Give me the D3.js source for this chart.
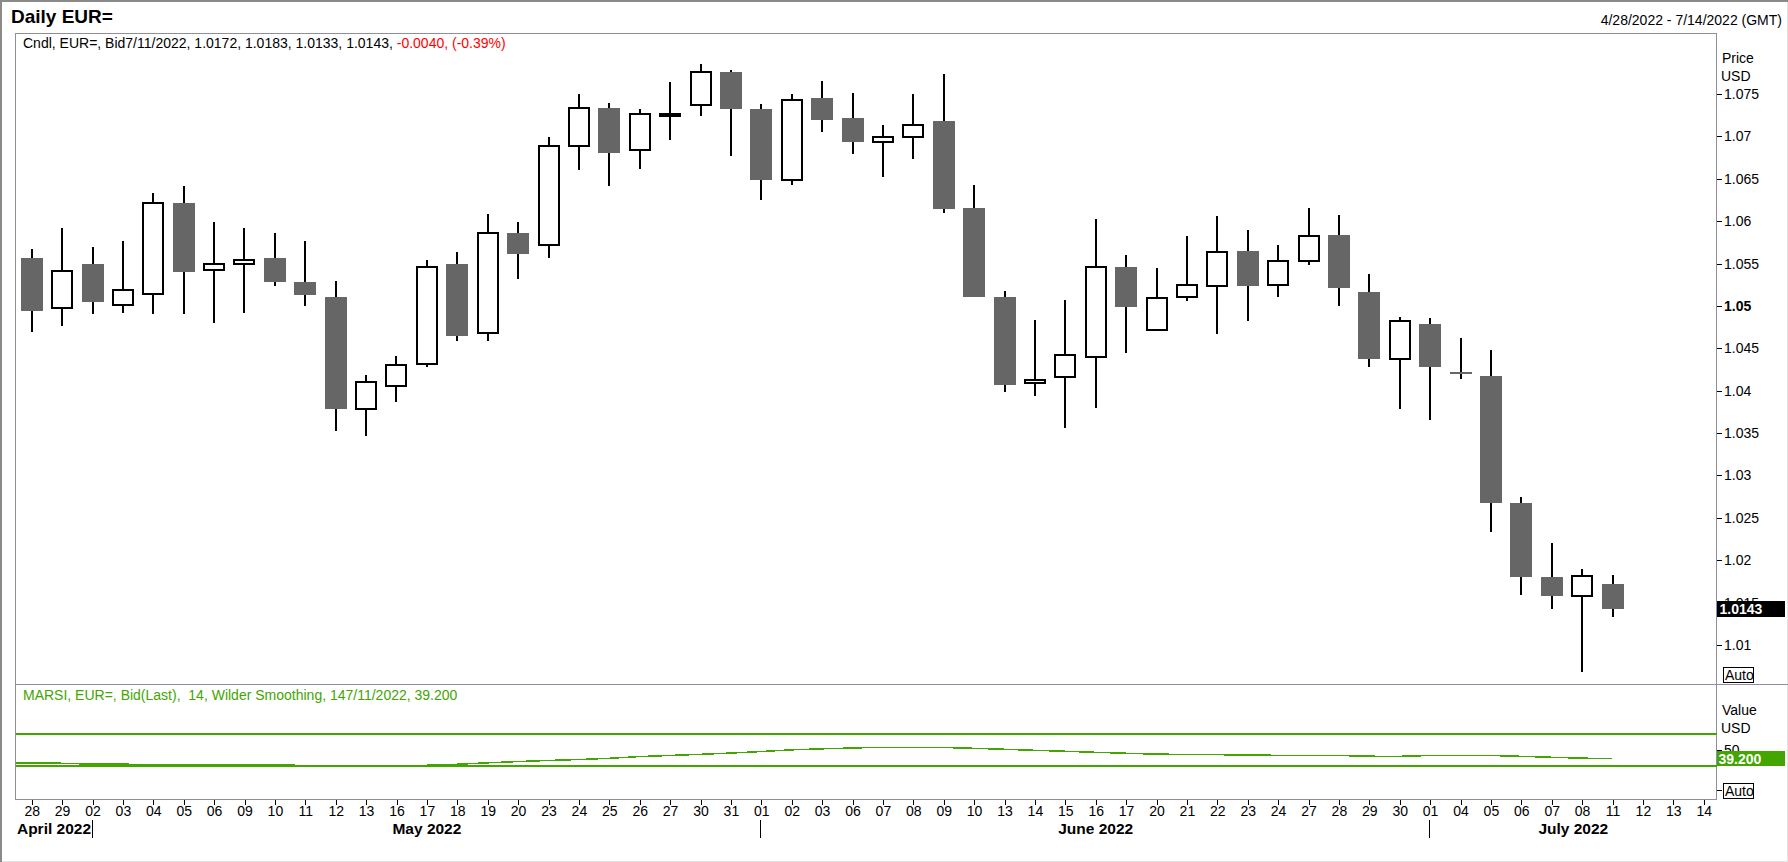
<!DOCTYPE html>
<html>
<head>
<meta charset="utf-8">
<script src="https://cdn.jsdelivr.net/npm/d3@7"></script>
<style>
  html, body { margin: 0; padding: 0; background: #fff; }
  svg { display: block; font-family: Arial, "Liberation Sans", sans-serif; }
</style>
</head>
<body>
<div id="chart"></div>
<script>
// trading days on the x axis (last three are empty slots)
let dates = [
    "2022-04-28", "2022-04-29",
    "2022-05-02", "2022-05-03", "2022-05-04", "2022-05-05", "2022-05-06",
    "2022-05-09", "2022-05-10", "2022-05-11", "2022-05-12", "2022-05-13",
    "2022-05-16", "2022-05-17", "2022-05-18", "2022-05-19", "2022-05-20",
    "2022-05-23", "2022-05-24", "2022-05-25", "2022-05-26", "2022-05-27",
    "2022-05-30", "2022-05-31",
    "2022-06-01", "2022-06-02", "2022-06-03",
    "2022-06-06", "2022-06-07", "2022-06-08", "2022-06-09", "2022-06-10",
    "2022-06-13", "2022-06-14", "2022-06-15", "2022-06-16", "2022-06-17",
    "2022-06-20", "2022-06-21", "2022-06-22", "2022-06-23", "2022-06-24",
    "2022-06-27", "2022-06-28", "2022-06-29", "2022-06-30",
    "2022-07-01", "2022-07-04", "2022-07-05", "2022-07-06", "2022-07-07",
    "2022-07-08", "2022-07-11", "2022-07-12", "2022-07-13", "2022-07-14"
];

// OHLC per day, Apr 28 .. Jul 11
let openVals = [
    1.0556, 1.0498, 1.0549, 1.0501, 1.0514, 1.0622, 1.0542, 1.0549, 1.0556, 1.0528,
    1.0510, 1.0379, 1.0405, 1.0432, 1.0549, 1.0468, 1.0586, 1.0572, 1.0689, 1.0734,
    1.0684, 1.0724, 1.0737, 1.0776, 1.0732, 1.0648, 1.0745, 1.0722, 1.0693, 1.0699,
    1.0718, 1.0615, 1.0511, 1.0409, 1.0416, 1.0440, 1.0546, 1.0472, 1.0510, 1.0523,
    1.0565, 1.0525, 1.0553, 1.0584, 1.0517, 1.0437, 1.0479, 1.0422, 1.0417, 1.0267,
    1.0180, 1.0158, 1.0172
];
let highVals = [
    1.0567, 1.0592, 1.0569, 1.0577, 1.0633, 1.0642, 1.0599, 1.0592, 1.0586, 1.0577,
    1.0530, 1.0418, 1.0441, 1.0554, 1.0564, 1.0608, 1.0599, 1.0699, 1.0750, 1.0739,
    1.0732, 1.0764, 1.0786, 1.0778, 1.0738, 1.0750, 1.0765, 1.0751, 1.0714, 1.0750,
    1.0774, 1.0643, 1.0518, 1.0484, 1.0507, 1.0602, 1.0560, 1.0545, 1.0583, 1.0606,
    1.0590, 1.0572, 1.0615, 1.0607, 1.0538, 1.0487, 1.0486, 1.0462, 1.0448, 1.0275,
    1.0220, 1.0190, 1.0183
];
let lowVals = [
    1.0469, 1.0476, 1.0490, 1.0492, 1.0491, 1.0491, 1.0480, 1.0492, 1.0523, 1.0500,
    1.0352, 1.0347, 1.0387, 1.0428, 1.0459, 1.0459, 1.0532, 1.0556, 1.0660, 1.0642,
    1.0661, 1.0696, 1.0724, 1.0677, 1.0625, 1.0643, 1.0705, 1.0679, 1.0652, 1.0673,
    1.0610, 1.0511, 1.0399, 1.0394, 1.0356, 1.0380, 1.0444, 1.0471, 1.0506, 1.0467,
    1.0482, 1.0510, 1.0548, 1.0500, 1.0428, 1.0379, 1.0366, 1.0414, 1.0233, 1.0159,
    1.0142, 1.0068, 1.0133
];
let closeVals = [
    1.0494, 1.0541, 1.0505, 1.0519, 1.0621, 1.0540, 1.0550, 1.0554, 1.0528, 1.0513,
    1.0379, 1.0410, 1.0430, 1.0546, 1.0464, 1.0586, 1.0561, 1.0689, 1.0734, 1.0681,
    1.0726, 1.0726, 1.0776, 1.0732, 1.0648, 1.0743, 1.0719, 1.0693, 1.0699, 1.0714,
    1.0614, 1.0511, 1.0407, 1.0413, 1.0442, 1.0546, 1.0499, 1.0509, 1.0525, 1.0564,
    1.0523, 1.0553, 1.0583, 1.0521, 1.0437, 1.0482, 1.0428, 1.0421, 1.0267, 1.0180,
    1.0158, 1.0182, 1.0143
];

// MARSI 14 values
let rsiVals = [
    33.9, 33.4, 32.3, 32.2, 32.1, 32.0, 31.9, 31.6, 31.2, 30.8,
    30.0, 29.8, 30.1, 30.9, 32.2, 34.0, 35.6, 36.9, 38.1, 39.6,
    41.8, 43.2, 44.6, 46.2, 48.1, 50.2, 51.5, 52.5, 53.4, 53.4,
    53.1, 52.1, 50.9, 49.6, 48.4, 47.1, 45.9, 44.8, 44.5, 44.2,
    43.5, 43.4, 43.4, 43.1, 42.2, 42.1, 43.1, 43.4, 43.1, 42.1,
    40.9, 39.8, 39.2
];
let rsiBands = [70, 30];

let priceTicks = [1.01, 1.015, 1.02, 1.025, 1.03, 1.035, 1.04, 1.045, 1.05,
    1.055, 1.06, 1.065, 1.07, 1.075];
let rsiTicks = [50, 0];
let lastPrice = 1.0143;
let lastRsi = 39.2;

let W = 1788, H = 862;
let plotLeft = 15.5, plotRight = 1716.5, plotTop = 33.5, priceBottom = 684.5, plotBottom = 799.5;
let green = "#42a500";
let frameColor = "#8e8e9c";

let candles = openVals.map(function(o, i) {
    return {date: dates[i], open: o, high: highVals[i], low: lowVals[i], close: closeVals[i], rsi: rsiVals[i]};
});

let svg = d3.select("#chart").append("svg")
    .attr("width", W)
    .attr("height", H)
    .attr("shape-rendering", "crispEdges");

// outer window edges
svg.append("rect").attr("x", 0).attr("y", 0).attr("width", W).attr("height", H)
    .attr("fill", "#fff").attr("stroke", "#e3e3e3").attr("stroke-width", 2);
svg.append("path").attr("d", "M1," + H + "V1H" + W)
    .attr("fill", "none").attr("stroke", "#8a8a8a").attr("stroke-width", 2);

// header
svg.append("text").attr("x", 11).attr("y", 23)
    .attr("font-size", 19).attr("font-weight", "bold").attr("fill", "#000")
    .text("Daily EUR=");
svg.append("text").attr("x", 1782).attr("y", 25)
    .attr("font-size", 14).attr("text-anchor", "end").attr("fill", "#000")
    .text("4/28/2022 - 7/14/2022 (GMT)");

// scales
let x = d3.scalePoint()
    .domain(dates)
    .range([plotLeft + 16.2, plotRight - 12.8]);

let y = d3.scaleLinear()
    .domain([1.0054, 1.0822])
    .range([priceBottom - 0.5, plotTop - 0.5]);

let yr = d3.scaleLinear()
    .domain([-11.25, 132.5])
    .range([plotBottom - 0.5, priceBottom - 0.5]);

// frames
svg.append("path")
    .attr("d", "M" + plotLeft + "," + plotBottom + "V" + plotTop + "H" + plotRight + "V" + plotBottom + "H" + plotLeft)
    .attr("fill", "none").attr("stroke", frameColor).attr("stroke-width", 1);
svg.append("line")
    .attr("x1", plotLeft).attr("x2", W).attr("y1", priceBottom).attr("y2", priceBottom)
    .attr("stroke", frameColor).attr("stroke-width", 1);

// candle legend
let legend = svg.append("text").attr("x", 23).attr("y", 48).attr("font-size", 14).attr("fill", "#000");
legend.append("tspan").text("Cndl, EUR=, Bid7/11/2022, 1.0172, 1.0183, 1.0133, 1.0143, ");
legend.append("tspan").attr("fill", "#ff0000").text("-0.0040, (-0.39%)");

// candles
let bodyW = Math.round(x.step() * 0.72);
let g = svg.append("g");

g.selectAll(".wick")
    .data(candles)
    .enter()
    .append("line")
    .attr("class", "wick")
    .attr("x1", function(d) { return Math.round(x(d.date)); })
    .attr("x2", function(d) { return Math.round(x(d.date)); })
    .attr("y1", function(d) { return y(d.high); })
    .attr("y2", function(d) { return y(d.low); })
    .attr("stroke", "#000")
    .attr("stroke-width", 2);

g.selectAll(".body")
    .data(candles)
    .enter()
    .append("rect")
    .attr("class", "body")
    .attr("x", function(d) {
        let up = d.close >= d.open;
        return Math.round(x(d.date)) - (up ? bodyW / 2 - 1 : bodyW / 2);
    })
    .attr("y", function(d) { return y(Math.max(d.open, d.close)); })
    .attr("width", function(d) { return d.close >= d.open ? bodyW - 2 : bodyW; })
    .attr("height", function(d) {
        let h = Math.abs(y(d.open) - y(d.close));
        return d.close >= d.open ? Math.max(h, 1) : Math.max(h, 2);
    })
    .attr("fill", function(d) { return d.close >= d.open ? "#fff" : "#666666"; })
    .attr("stroke", function(d) { return d.close >= d.open ? "#000" : "none"; })
    .attr("stroke-width", 2);

// price axis
let priceAxis = svg.append("g")
    .attr("transform", "translate(" + (plotRight + 0.5) + ",0)")
    .call(d3.axisRight(y).tickValues(priceTicks).tickSize(5).tickPadding(2)
        .tickFormat(function(d) { return d3.format("")(+d.toFixed(3)); }));
priceAxis.select(".domain").remove();
priceAxis.selectAll("line").attr("stroke", "#000");
priceAxis.selectAll("text")
    .attr("font-size", 14).attr("fill", "#000")
    .attr("font-weight", function(d) { return d === 1.05 ? "bold" : null; });
priceAxis.attr("font-family", null).attr("font-size", null);

svg.append("text").attr("x", 1722).attr("y", 63).attr("font-size", 14).text("Price");
svg.append("text").attr("x", 1721).attr("y", 81).attr("font-size", 14).text("USD");

// last price marker
svg.append("rect")
    .attr("x", plotRight + 0.5).attr("y", y(lastPrice) - 8)
    .attr("width", 68).attr("height", 16).attr("fill", "#000");
svg.append("text")
    .attr("x", plotRight + 3).attr("y", y(lastPrice)).attr("dy", "0.36em")
    .attr("font-size", 14).attr("font-weight", "bold").attr("fill", "#fff")
    .text(d3.format(".4f")(lastPrice));

function autoBox(yy) {
    svg.append("rect").attr("x", 1723.5).attr("y", yy - 0.5).attr("width", 30).attr("height", 15)
        .attr("fill", "#fff").attr("stroke", "#000").attr("stroke-width", 1);
    svg.append("text").attr("x", 1725).attr("y", yy + 12).attr("font-size", 14).text("Auto");
}
autoBox(668);

// RSI panel
svg.append("text").attr("x", 23).attr("y", 700).attr("font-size", 14).attr("fill", green)
    .attr("xml:space", "preserve")
    .text("MARSI, EUR=, Bid(Last),  14, Wilder Smoothing, 147/11/2022, 39.200");

svg.selectAll(".band")
    .data(rsiBands)
    .enter()
    .append("line")
    .attr("class", "band")
    .attr("x1", plotLeft).attr("x2", plotRight)
    .attr("y1", function(d) { return Math.round(yr(d)); })
    .attr("y2", function(d) { return Math.round(yr(d)); })
    .attr("stroke", green).attr("stroke-width", 2);

let rsiLine = d3.line()
    .x(function(d) { return x(d.date); })
    .y(function(d) { return yr(d.rsi); });

// line enters from the left edge of the panel
svg.append("line")
    .attr("x1", plotLeft).attr("x2", x(candles[0].date))
    .attr("y1", yr(candles[0].rsi)).attr("y2", yr(candles[0].rsi))
    .attr("stroke", green).attr("stroke-width", 1.5);
svg.append("path")
    .datum(candles)
    .attr("d", rsiLine)
    .attr("fill", "none")
    .attr("stroke", green)
    .attr("stroke-width", 1.5);

// the 0 tick sits behind the Auto box, so only its mark shows
let rsiAxis = svg.append("g")
    .attr("transform", "translate(" + (plotRight + 0.5) + ",0)")
    .call(d3.axisRight(yr).tickValues(rsiTicks).tickSize(5).tickPadding(2)
        .tickFormat(function(d) { return d === 0 ? "" : d; }));
rsiAxis.select(".domain").remove();
rsiAxis.selectAll("line").attr("stroke", "#000");
rsiAxis.selectAll("text").attr("font-size", 14).attr("fill", "#000");
rsiAxis.attr("font-family", null).attr("font-size", null);

svg.append("text").attr("x", 1722).attr("y", 715).attr("font-size", 14).text("Value");
svg.append("text").attr("x", 1721).attr("y", 733).attr("font-size", 14).text("USD");

svg.append("rect")
    .attr("x", plotRight + 0.5).attr("y", yr(lastRsi) - 7.5)
    .attr("width", 68).attr("height", 15).attr("fill", green);
svg.append("text")
    .attr("x", plotRight + 2).attr("y", yr(lastRsi)).attr("dy", "0.36em")
    .attr("font-size", 14).attr("font-weight", "bold").attr("fill", "#fff")
    .text(d3.format(".3f")(lastRsi));

autoBox(784);

// date axis
let dateAxis = svg.append("g")
    .attr("transform", "translate(0," + plotBottom + ")")
    .call(d3.axisBottom(x).tickSize(5).tickPadding(2)
        .tickFormat(function(d) { return d.slice(8); }));
dateAxis.select(".domain").remove();
dateAxis.selectAll("line").attr("stroke", "#000");
dateAxis.selectAll("text").attr("font-size", 14).attr("fill", "#000");
dateAxis.attr("font-family", null).attr("font-size", null);

// month labels and separators
let months = d3.groups(dates, function(d) { return d.slice(0, 7); });
let monthNames = {"04": "April", "05": "May", "06": "June", "07": "July"};
months.forEach(function(m, i) {
    let startX = i === 0 ? plotLeft : x(m[1][0]);
    let endX = i === months.length - 1 ? plotRight : x(months[i + 1][1][0]);
    if (i > 0) {
        svg.append("line")
            .attr("x1", Math.round(startX) - 0.5).attr("x2", Math.round(startX) - 0.5)
            .attr("y1", 820).attr("y2", 838)
            .attr("stroke", "#000").attr("stroke-width", 1);
    }
    let label = monthNames[m[0].slice(5)] + " " + m[0].slice(0, 4);
    let t = svg.append("text")
        .attr("y", 834)
        .attr("font-size", 15.5).attr("font-weight", "bold").attr("fill", "#000")
        .text(label);
    let w = t.node().getComputedTextLength();
    t.attr("x", Math.max(plotLeft, (startX + endX) / 2 - w / 2));
});
</script>
</body>
</html>
